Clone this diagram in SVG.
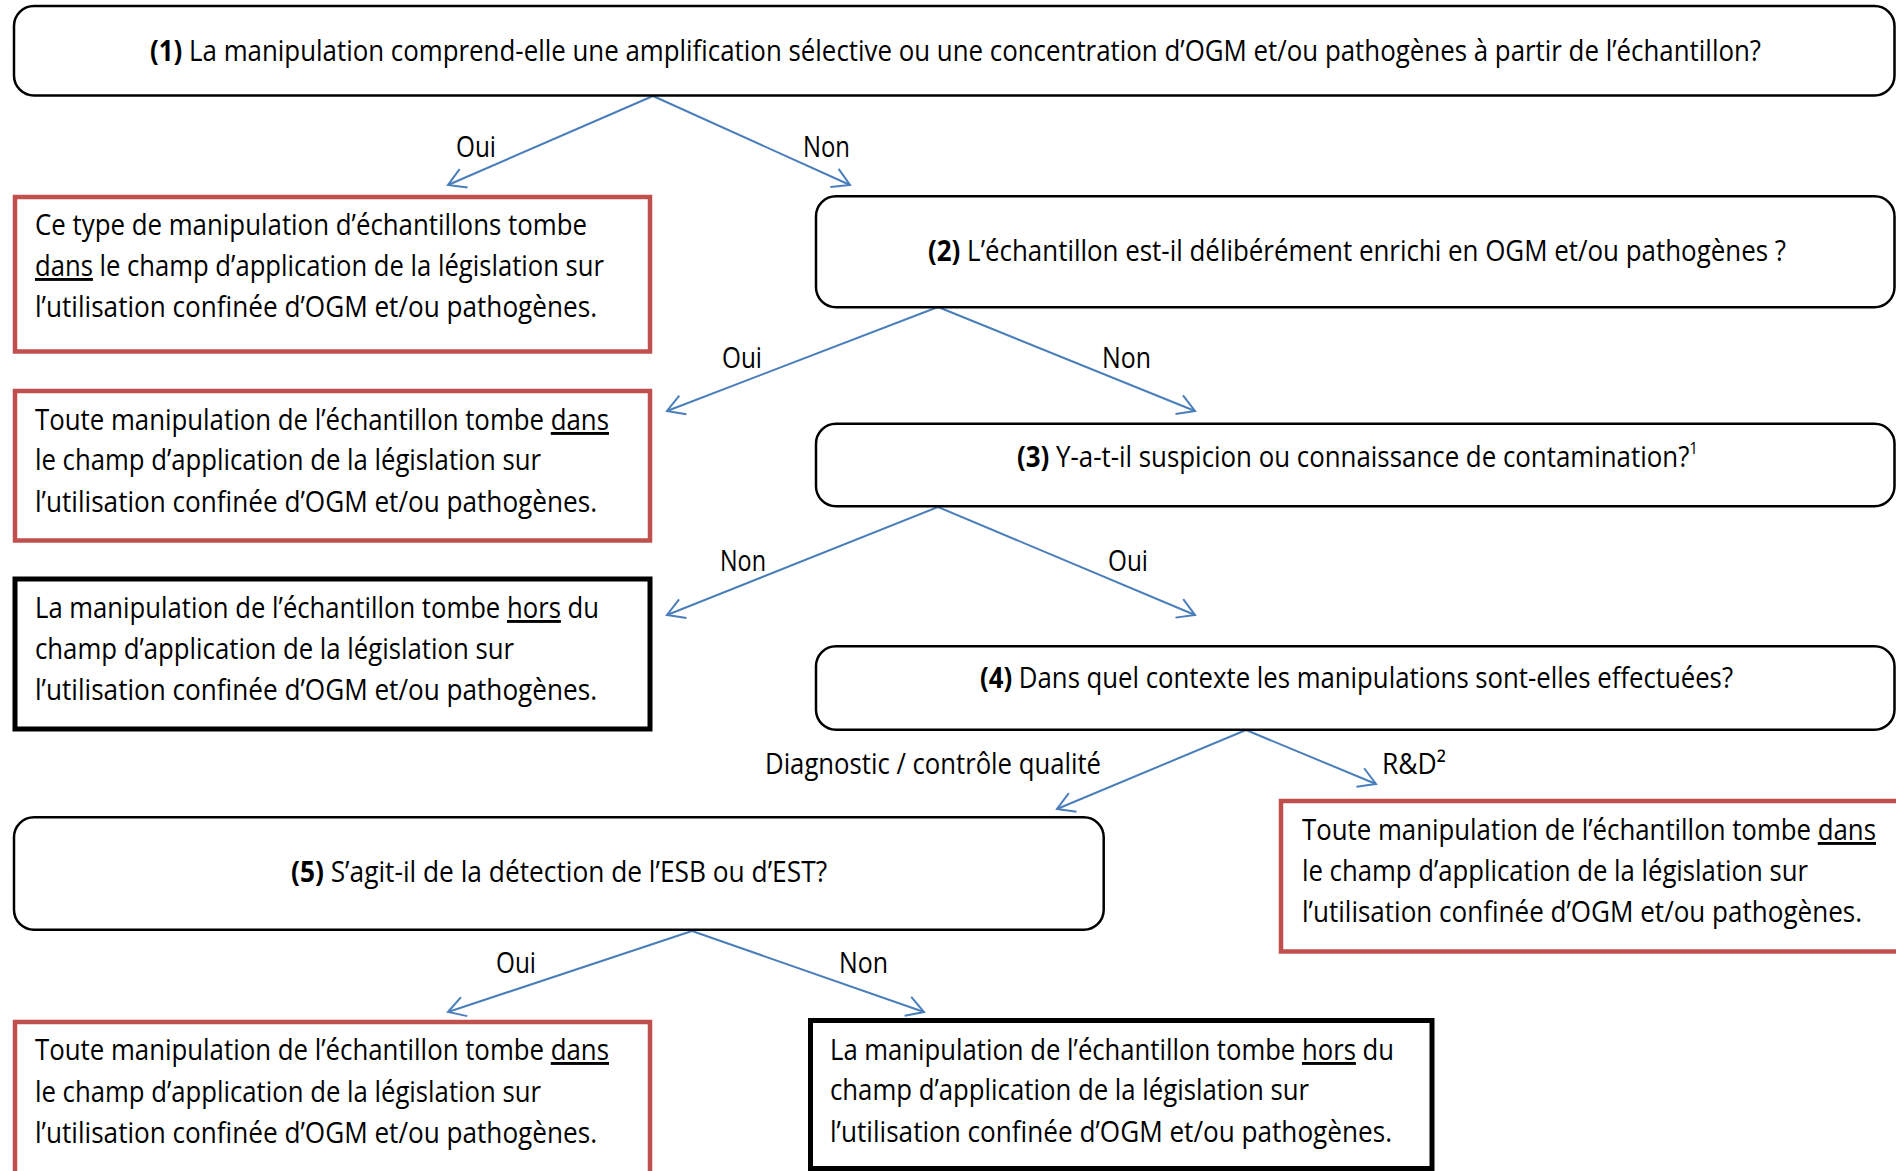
<svg xmlns="http://www.w3.org/2000/svg" width="1896" height="1171" viewBox="0 0 1896 1171">
<defs>
<style>
text{font-family:"Open Sans","Liberation Sans",sans-serif;font-size:29px;fill:#000}
.b{font-weight:bold}
.u{text-decoration:underline}
.q{fill:#fff;stroke:#000;stroke-width:2.5}
.red{fill:#fff;stroke:#C0504D;stroke-width:4.5}
.blk{fill:#fff;stroke:#000;stroke-width:5}
.c{fill:none;stroke:#4A7EBB;stroke-width:2}
.sup{font-size:17px}
</style>
<marker id="ah" markerUnits="userSpaceOnUse" markerWidth="40" markerHeight="40" refX="0" refY="0" viewBox="-20 -20 40 40" orient="auto" overflow="visible">
<path d="M-17,-10 L0,0 L-17,10" fill="none" stroke="#4A7EBB" stroke-width="2"/>
</marker>
</defs>
<rect width="1896" height="1171" fill="#fff"/>

<g id="connectors">
<line class="c" x1="653" y1="96" x2="448" y2="185" marker-end="url(#ah)"/>
<line class="c" x1="653" y1="96" x2="850" y2="185" marker-end="url(#ah)"/>
<line class="c" x1="938" y1="307" x2="667" y2="411" marker-end="url(#ah)"/>
<line class="c" x1="938" y1="307" x2="1195" y2="411" marker-end="url(#ah)"/>
<line class="c" x1="938" y1="507" x2="667" y2="615" marker-end="url(#ah)"/>
<line class="c" x1="938" y1="507" x2="1195" y2="615" marker-end="url(#ah)"/>
<line class="c" x1="1246" y1="730" x2="1057" y2="809" marker-end="url(#ah)"/>
<line class="c" x1="1246" y1="730" x2="1376" y2="784" marker-end="url(#ah)"/>
<line class="c" x1="692" y1="931" x2="448" y2="1012" marker-end="url(#ah)"/>
<line class="c" x1="692" y1="931" x2="924" y2="1012" marker-end="url(#ah)"/>
<text x="456" y="157" textLength="40" lengthAdjust="spacingAndGlyphs">Oui</text>
<text x="803" y="157" textLength="47" lengthAdjust="spacingAndGlyphs">Non</text>
<text x="722" y="368" textLength="40" lengthAdjust="spacingAndGlyphs">Oui</text>
<text x="1102" y="368" textLength="49" lengthAdjust="spacingAndGlyphs">Non</text>
<text x="720" y="571" textLength="46" lengthAdjust="spacingAndGlyphs">Non</text>
<text x="1108" y="571" textLength="40" lengthAdjust="spacingAndGlyphs">Oui</text>
<text x="765" y="774" textLength="336" lengthAdjust="spacingAndGlyphs">Diagnostic / contrôle qualité</text>
<text x="1382" y="774" textLength="64" lengthAdjust="spacingAndGlyphs">R&amp;D²</text>
<text x="496" y="973" textLength="40" lengthAdjust="spacingAndGlyphs">Oui</text>
<text x="839" y="973" textLength="49" lengthAdjust="spacingAndGlyphs">Non</text>
</g>

<g id="q1">
<rect class="q" x="14" y="6" width="1880.5" height="89.5" rx="20" ry="20"/>
<text x="150" y="61" textLength="1611" lengthAdjust="spacingAndGlyphs"><tspan class="b">(1)</tspan> La manipulation comprend-elle une amplification sélective ou une concentration d’OGM et/ou pathogènes à partir de l’échantillon?</text>
</g>

<g id="r1">
<rect class="red" x="15" y="197" width="635" height="154.5"/>
<text x="35" y="235" textLength="552" lengthAdjust="spacingAndGlyphs">Ce type de manipulation d’échantillons tombe</text>
<text x="35" y="276" textLength="569" lengthAdjust="spacingAndGlyphs"><tspan class="u">dans</tspan> le champ d’application de la législation sur</text>
<text x="35" y="317" textLength="562" lengthAdjust="spacingAndGlyphs">l’utilisation confinée d’OGM et/ou pathogènes.</text>
</g>

<g id="q2">
<rect class="q" x="816" y="196.3" width="1078.5" height="111" rx="20" ry="20"/>
<text x="928" y="261" textLength="858" lengthAdjust="spacingAndGlyphs"><tspan class="b">(2)</tspan> L’échantillon est-il délibérément enrichi en OGM et/ou pathogènes ?</text>
</g>

<g id="r2">
<rect class="red" x="15" y="391" width="635" height="149.5"/>
<text x="35" y="430" textLength="574" lengthAdjust="spacingAndGlyphs">Toute manipulation de l’échantillon tombe <tspan class="u">dans</tspan></text>
<text x="35" y="470" textLength="506" lengthAdjust="spacingAndGlyphs">le champ d’application de la législation sur</text>
<text x="35" y="511.5" textLength="562" lengthAdjust="spacingAndGlyphs">l’utilisation confinée d’OGM et/ou pathogènes.</text>
</g>

<g id="q3">
<rect class="q" x="816" y="423.7" width="1078.5" height="82.6" rx="20" ry="20"/>
<text x="1017" y="467" textLength="681" lengthAdjust="spacingAndGlyphs"><tspan class="b">(3)</tspan> Y-a-t-il suspicion ou connaissance de contamination?<tspan class="sup" dy="-13">1</tspan></text>
</g>

<g id="b1">
<rect class="blk" x="15" y="579" width="635" height="150"/>
<text x="35" y="618" textLength="564" lengthAdjust="spacingAndGlyphs">La manipulation de l’échantillon tombe <tspan class="u">hors</tspan> du</text>
<text x="35" y="658.5" textLength="479" lengthAdjust="spacingAndGlyphs">champ d’application de la législation sur</text>
<text x="35" y="700" textLength="562" lengthAdjust="spacingAndGlyphs">l’utilisation confinée d’OGM et/ou pathogènes.</text>
</g>

<g id="q4">
<rect class="q" x="816" y="646.3" width="1078.5" height="83.4" rx="20" ry="20"/>
<text x="980" y="688" textLength="753" lengthAdjust="spacingAndGlyphs"><tspan class="b">(4)</tspan> Dans quel contexte les manipulations sont-elles effectuées?</text>
</g>

<g id="r4">
<rect class="red" x="1281" y="801" width="700" height="150.5"/>
<text x="1302" y="840" textLength="574" lengthAdjust="spacingAndGlyphs">Toute manipulation de l’échantillon tombe <tspan class="u">dans</tspan></text>
<text x="1302" y="880.5" textLength="506" lengthAdjust="spacingAndGlyphs">le champ d’application de la législation sur</text>
<text x="1302" y="921.5" textLength="560" lengthAdjust="spacingAndGlyphs">l’utilisation confinée d’OGM et/ou pathogènes.</text>
</g>

<g id="q5">
<rect class="q" x="14" y="817.3" width="1089.7" height="112.4" rx="20" ry="20"/>
<text x="291" y="882" textLength="536" lengthAdjust="spacingAndGlyphs"><tspan class="b">(5)</tspan> S’agit-il de la détection de l’ESB ou d’EST?</text>
</g>

<g id="r3">
<rect class="red" x="15" y="1022" width="635" height="200"/>
<text x="35" y="1060" textLength="574" lengthAdjust="spacingAndGlyphs">Toute manipulation de l’échantillon tombe <tspan class="u">dans</tspan></text>
<text x="35" y="1101.5" textLength="506" lengthAdjust="spacingAndGlyphs">le champ d’application de la législation sur</text>
<text x="35" y="1142.5" textLength="562" lengthAdjust="spacingAndGlyphs">l’utilisation confinée d’OGM et/ou pathogènes.</text>
</g>

<g id="b2">
<rect class="blk" x="810.5" y="1020.5" width="621.5" height="148"/>
<text x="830" y="1060" textLength="564" lengthAdjust="spacingAndGlyphs">La manipulation de l’échantillon tombe <tspan class="u">hors</tspan> du</text>
<text x="830" y="1100" textLength="479" lengthAdjust="spacingAndGlyphs">champ d’application de la législation sur</text>
<text x="830" y="1141.5" textLength="562" lengthAdjust="spacingAndGlyphs">l’utilisation confinée d’OGM et/ou pathogènes.</text>
</g>
</svg>
